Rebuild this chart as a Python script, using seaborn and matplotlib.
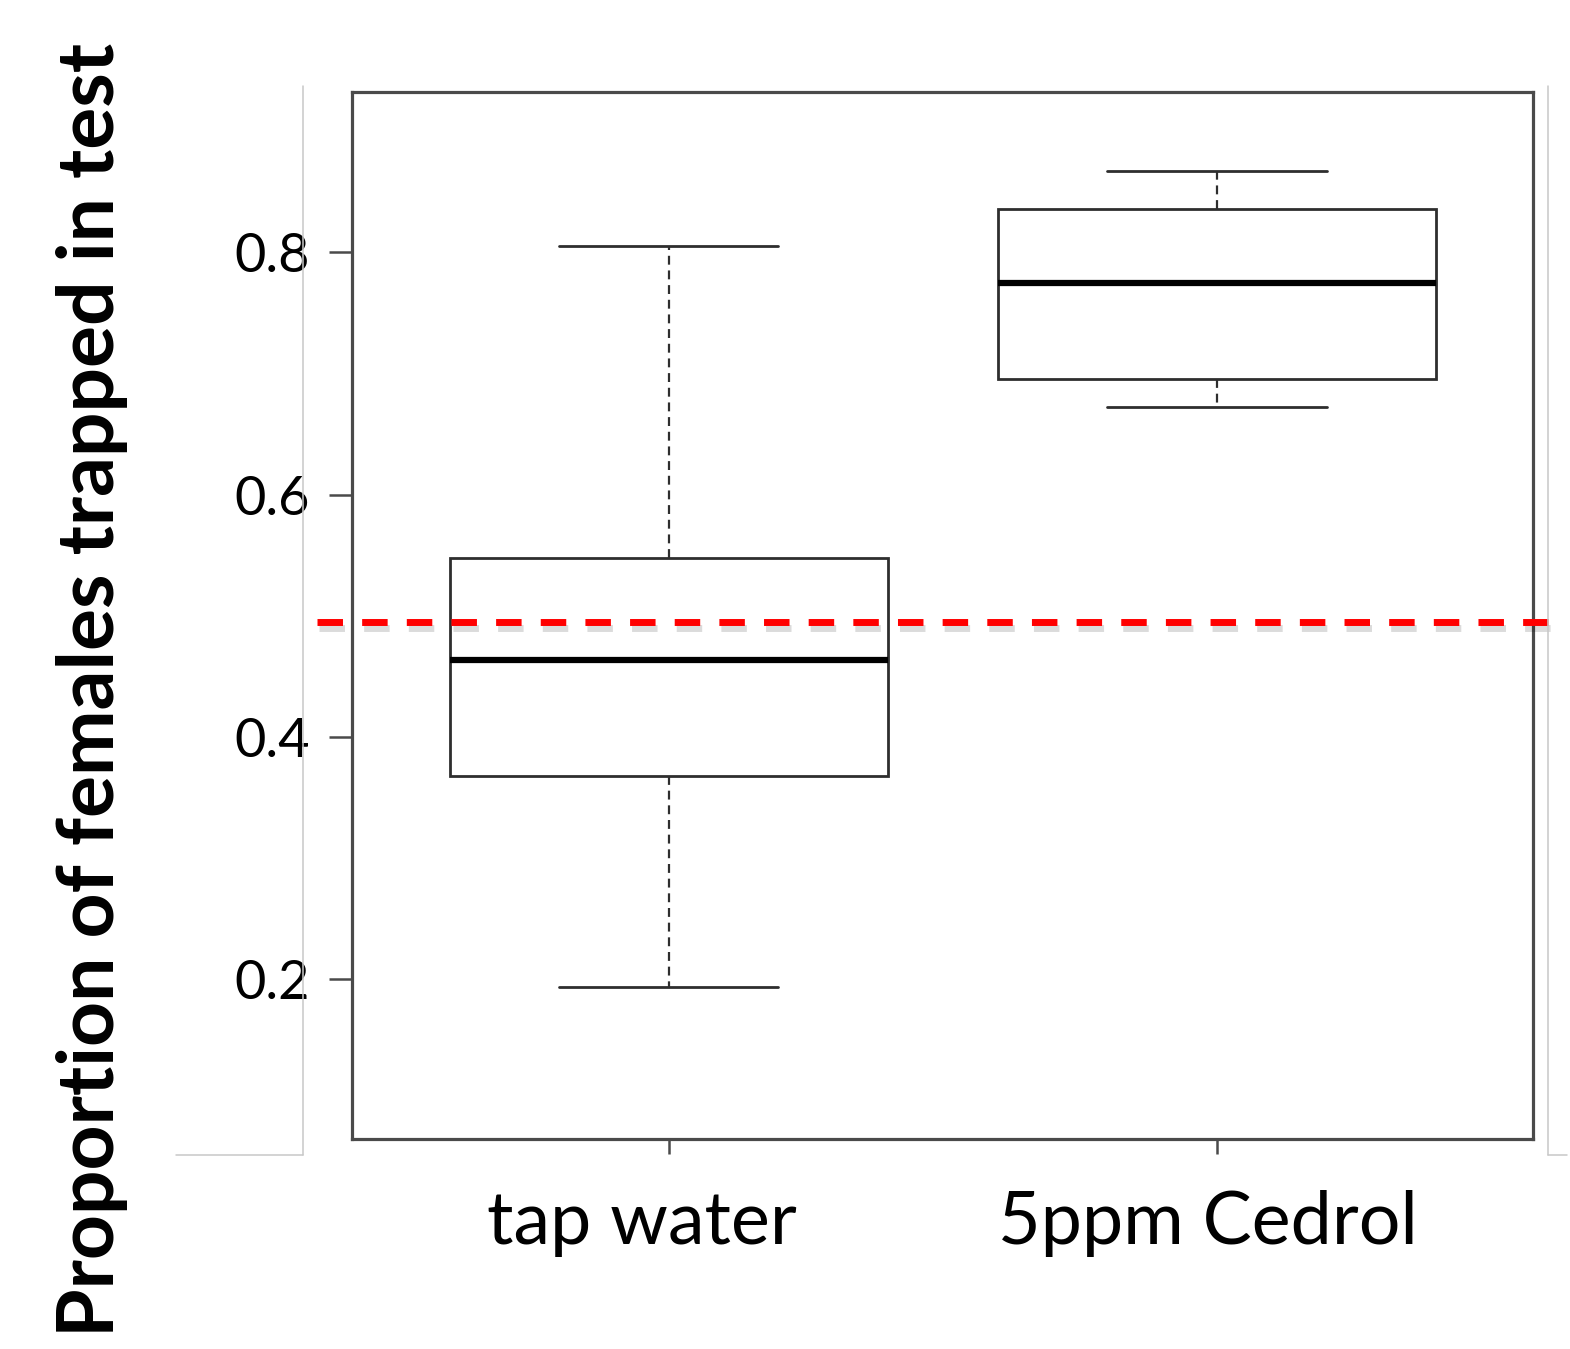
import numpy as np
import pandas as pd
import matplotlib
matplotlib.use("Agg")
import matplotlib.pyplot as plt
import matplotlib.patheffects as pe
from matplotlib.lines import Line2D
from matplotlib.transforms import ScaledTranslation
import seaborn as sns

# Five-number summaries (low whisker, Q1, median, Q3, high whisker)
GROUPS = ["tap water", "5ppm Cedrol"]
TAP_WATER = [0.194, 0.368, 0.4635, 0.5475, 0.805]
CEDROL = [0.6725, 0.695, 0.7745, 0.8355, 0.867]
REFERENCE_LINE = 0.495
Y_TICKS = [0.2, 0.4, 0.6, 0.8]
Y_LABEL = "Proportion of females trapped in test"

df = pd.DataFrame({
    "group": [GROUPS[0]] * len(TAP_WATER) + [GROUPS[1]] * len(CEDROL),
    "value": TAP_WATER + CEDROL,
})

sns.set_style("white")
plt.rcParams["font.family"] = ["Lato", "DejaVu Sans"]

W, H = 1570, 1349
fig = plt.figure(figsize=(W / 100, H / 100), dpi=100)
ax = fig.add_axes([352 / W, 1 - 1139.3 / H, (1532.7 - 352) / W, (1139.3 - 92.3) / H])

edge = "#2e2e2e"
sns.boxplot(
    data=df, x="group", y="value", order=GROUPS, ax=ax,
    color="white", linecolor=edge, width=0.8, whis=1.5, fliersize=0,
    boxprops={"linewidth": 2.0, "edgecolor": edge, "facecolor": "white"},
    medianprops={"linewidth": 4.5, "color": "black"},
    whiskerprops={"linewidth": 1.6, "color": edge, "linestyle": (0, (4.0, 2.6))},
    capprops={"linewidth": 2.0, "color": edge},
)

ax.set_xlim(-0.578, 1.576)
ax.set_ylim(0.068, 0.932)
ax.set_yticks(Y_TICKS)
ax.set_yticklabels([f"{t:.1f}" for t in Y_TICKS])

for s in ax.spines.values():
    s.set_visible(True)
    s.set_color("#4a4a4a")
    s.set_linewidth(2.3)

ax.tick_params(axis="y", direction="out", length=16.5, width=1.8, color="#4a4a4a",
               pad=14, labelsize=39, labelcolor="black", left=True)
ax.tick_params(axis="x", direction="out", length=10.5, width=1.8, color="#4a4a4a",
               pad=26, labelsize=53, labelcolor="black", bottom=True)
ax.set_xlabel("")

# category labels sit a little left of their ticks in the original
for lab, dx in zip(ax.get_xticklabels(), [-27, -9]):
    lab.set_transform(lab.get_transform() + ScaledTranslation(dx / 100, 0, fig.dpi_scale_trans))

ax.set_ylabel(Y_LABEL, fontsize=56.5, fontweight="bold", color="black")
ax.yaxis.label.set_va("center")
ax.yaxis.set_label_coords((92 - 352) / (1532.7 - 352), (1139.3 - 690) / (1139.3 - 92.3))

# red dashed reference line with soft shadow, running past the frame
ax.plot([-0.030, 1.026], [REFERENCE_LINE, REFERENCE_LINE],
        transform=ax.get_yaxis_transform(), clip_on=False,
        color="#ff0000", linewidth=5.0, dashes=(3.67, 2.76), solid_capstyle="butt",
        path_effects=[pe.SimpleLineShadow(offset=(1.5, -4.5), shadow_color="black", alpha=0.14),
                      pe.Normal()], zorder=5)

# faint frame lines left over from the slide
grey = "#c8c8c8"
for xs, ys in [
    ([302.7, 302.7], [86, 1155]),
    ([176, 302.7], [1155, 1155]),
    ([1548, 1548], [86, 1155]),
    ([1548, 1567], [1155, 1155]),
]:
    fig.add_artist(Line2D([x / W for x in xs], [1 - y / H for y in ys],
                          color=grey, linewidth=1.1))

fig.savefig("out.png", dpi=100)
